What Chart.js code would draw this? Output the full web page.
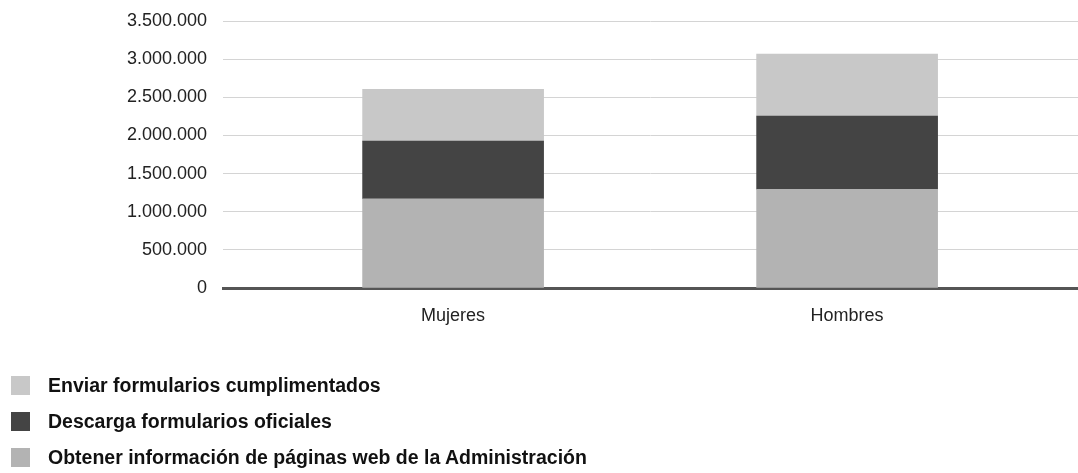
<!DOCTYPE html>
<html>
<head>
<meta charset="utf-8">
<script src="https://cdn.jsdelivr.net/npm/chart.js@4.4.1/dist/chart.umd.min.js"></script>
<style>
html,body{margin:0;padding:0;background:#fff;}
#wrap{position:relative;width:1078px;height:473px;overflow:hidden;}
#legend{position:absolute;left:11px;top:376px;font:bold 19.5px "Liberation Sans",Arial,sans-serif;color:#111;}
.row{display:flex;align-items:center;height:19px;margin-bottom:17px;white-space:nowrap;}
.box{width:19px;height:19px;margin-right:18px;flex:none;}
</style>
</head>
<body>
<div id="wrap">
  <canvas id="c" width="1078" height="473"></canvas>
  <div id="legend"></div>
</div>
<script>
// ---- data ----
const categories = ['Mujeres', 'Hombres'];
const seriesNames = [
  'Obtener información de páginas web de la Administración',
  'Descarga formularios oficiales',
  'Enviar formularios cumplimentados'
];
const obtenerInfo = [1170000, 1295000];
const descargaForm = [755000, 960000];
const enviarForm = [680000, 810000];
const yTickValues = [0, 500000, 1000000, 1500000, 2000000, 2500000, 3000000, 3500000];
const seriesColors = ['#b3b3b3', '#444444', '#c8c8c8'];

const seriesValues = [obtenerInfo, descargaForm, enviarForm];

function fmt(v) {
  return String(Math.round(v)).replace(/\B(?=(\d{3})+(?!\d))/g, '.');
}

const datasets = seriesNames.map((name, s) => ({
  label: name,
  data: categories.map((c, i) => ({ x: i, y: seriesValues[s][i] })),
  backgroundColor: seriesColors[s],
  borderWidth: 0,
  barThickness: 181
}));

const FONT = '"Liberation Sans", Arial, sans-serif';

const chart = new Chart(document.getElementById('c'), {
  type: 'bar',
  data: { datasets },
  options: {
    responsive: false,
    animation: false,
    layout: { padding: { top: 21, left: 0, right: 0, bottom: 145 } },
    plugins: { legend: { display: false }, tooltip: { enabled: false } },
    scales: {
      x: {
        type: 'linear',
        stacked: true,
        min: -0.584,
        max: 1.586,
        offset: false,
        grid: { display: false, drawTicks: false },
        border: { display: true, color: '#555555', width: 3 },
        afterBuildTicks: (axis) => { axis.ticks = categories.map((c, i) => ({ value: i })); },
        afterFit: (scale) => { scale.height = 40; scale.paddingLeft = 0; scale.paddingRight = 0; },
        ticks: {
          padding: 17,
          color: '#222222',
          font: { family: FONT, size: 18 },
          maxRotation: 0,
          autoSkip: false,
          callback: (v) => categories[v] ?? ''
        }
      },
      y: {
        stacked: true,
        min: 0,
        max: 3500000,
        afterBuildTicks: (axis) => { axis.ticks = yTickValues.map(v => ({ value: v })); },
        afterFit: (scale) => { scale.width = 223; scale.paddingTop = 0; scale.paddingBottom = 0; },
        grid: { color: '#d4d4d4', lineWidth: 1, drawTicks: false },
        border: { display: false },
        ticks: {
          padding: 16,
          color: '#222222',
          font: { family: FONT, size: 18 },
          callback: (v) => fmt(v)
        }
      }
    }
  }
});

// HTML legend built from chart datasets (top series first)
const legendEl = document.getElementById('legend');
chart.data.datasets.slice().reverse().forEach(ds => {
  const row = document.createElement('div');
  row.className = 'row';
  const box = document.createElement('span');
  box.className = 'box';
  box.style.background = ds.backgroundColor;
  const txt = document.createElement('span');
  txt.textContent = ds.label;
  row.appendChild(box);
  row.appendChild(txt);
  legendEl.appendChild(row);
});
</script>
</body>
</html>
